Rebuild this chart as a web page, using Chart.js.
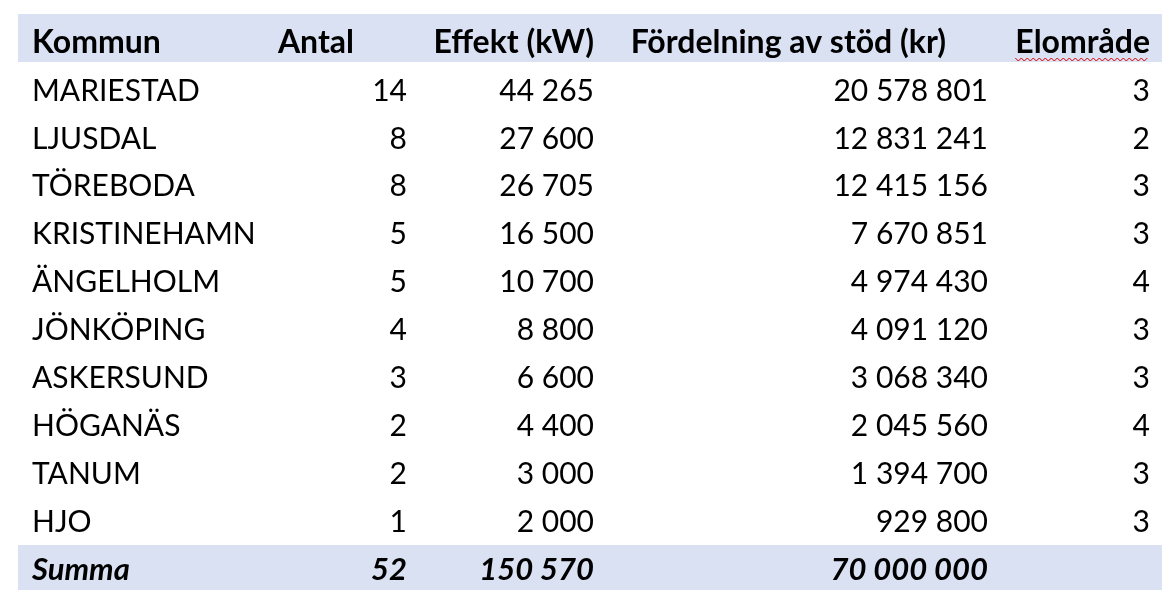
<!DOCTYPE html>
<html><head><meta charset="utf-8">
<script src="https://cdn.jsdelivr.net/npm/chart.js@4"></script>
<style>html,body{margin:0;padding:0;background:#fff}#c{display:block}</style>
</head><body>
<div style="width:1176px;height:607px"><canvas id="c"></canvas></div>
<script>
const headers = ["Kommun", "Antal", "Effekt (kW)", "Fördelning av stöd (kr)", "Elområde"]
const kommuner = ["MARIESTAD","LJUSDAL","TÖREBODA","KRISTINEHAMN","ÄNGELHOLM","JÖNKÖPING","ASKERSUND","HÖGANÄS","TANUM","HJO"]
const antal = [14, 8, 8, 5, 5, 4, 3, 2, 2, 1]
const effekt = [44265, 27600, 26705, 16500, 10700, 8800, 6600, 4400, 3000, 2000]
const stod = [20578801, 12831241, 12415156, 7670851, 4974430, 4091120, 3068340, 2045560, 1394700, 929800]
const elomrade = [3, 2, 3, 3, 4, 3, 3, 4, 3, 3]
const summa = ["Summa", 52, 150570, 70000000, ""]

// column anchors on the x scale (text x, alignment) and header anchors
const colX = [32, 407, 594, 988, 1150]
const colAlign = ["left", "right", "right", "right", "right"]
const headX = [32, 354, 594, 946, 1150]
const headAlign = ["left", "right", "right", "right", "right"]

function fmt(n){
    if (n === "" ) return ""
    if (typeof n !== "number") return n
    return n.toString().replace(/\B(?=(\d{3})+(?!\d))/g, " ")
}

const tablePlugin = {
    id: "table",
    afterDraw(chart){
        const ctx = chart.ctx
        const x = chart.scales.x, y = chart.scales.y
        const font = "Lato, 'Open Sans', sans-serif"
        ctx.save()
        // header and sum bands
        ctx.fillStyle = "#D9E1F2"
        ctx.fillRect(x.getPixelForValue(18), y.getPixelForValue(14), x.getPixelForValue(1162)-x.getPixelForValue(18), y.getPixelForValue(62)-y.getPixelForValue(14))
        ctx.fillRect(x.getPixelForValue(18), y.getPixelForValue(545), x.getPixelForValue(1162)-x.getPixelForValue(18), y.getPixelForValue(590)-y.getPixelForValue(545))
        ctx.fillStyle = "#000"
        ctx.textBaseline = "middle"
        ctx.font = "bold 32px " + font
        headers.forEach((h, i)=>{
            ctx.textAlign = headAlign[i]
            ctx.fillText(h, x.getPixelForValue(headX[i]), y.getPixelForValue(43))
        })
        // red squiggle under Elområde
        ctx.strokeStyle = "#d00"
        ctx.lineWidth = 1
        ctx.beginPath()
        const w = ctx.measureText(headers[4]).width
        let sx = x.getPixelForValue(1150) - w, sy = y.getPixelForValue(59)
        for (let i=0; sx + i*3 <= x.getPixelForValue(1150); i++){
            const px = sx + i*3, py = sy + (i%2 ? 2 : -1)
            i ? ctx.lineTo(px, py) : ctx.moveTo(px, py)
        }
        ctx.stroke()
        ctx.font = "30px " + font
        kommuner.forEach((k, r)=>{
            const row = [k, antal[r], effekt[r], stod[r], elomrade[r]]
            const cy = y.getPixelForValue(91 + r*47.9)
            row.forEach((v, i)=>{
                ctx.textAlign = colAlign[i]
                ctx.fillText(fmt(v), x.getPixelForValue(colX[i]), cy)
            })
        })
        ctx.font = "italic bold 31px " + font
        summa.forEach((v, i)=>{
            ctx.textAlign = colAlign[i]
            ctx.fillText(fmt(v), x.getPixelForValue(colX[i]), y.getPixelForValue(570))
        })
        ctx.restore()
    }
}

new Chart(document.getElementById("c"), {
    type: "scatter",
    data: { datasets: [{ data: [] }] },
    options: {
        responsive: true,
        maintainAspectRatio: false,
        animation: false,
        layout: { padding: 0 },
        plugins: { legend: { display: false }, tooltip: { enabled: false } },
        scales: {
            x: { type: "linear", min: 0, max: 1176, display: false },
            y: { type: "linear", min: 0, max: 607, reverse: true, display: false }
        }
    },
    plugins: [tablePlugin]
})
</script>
</body></html>
